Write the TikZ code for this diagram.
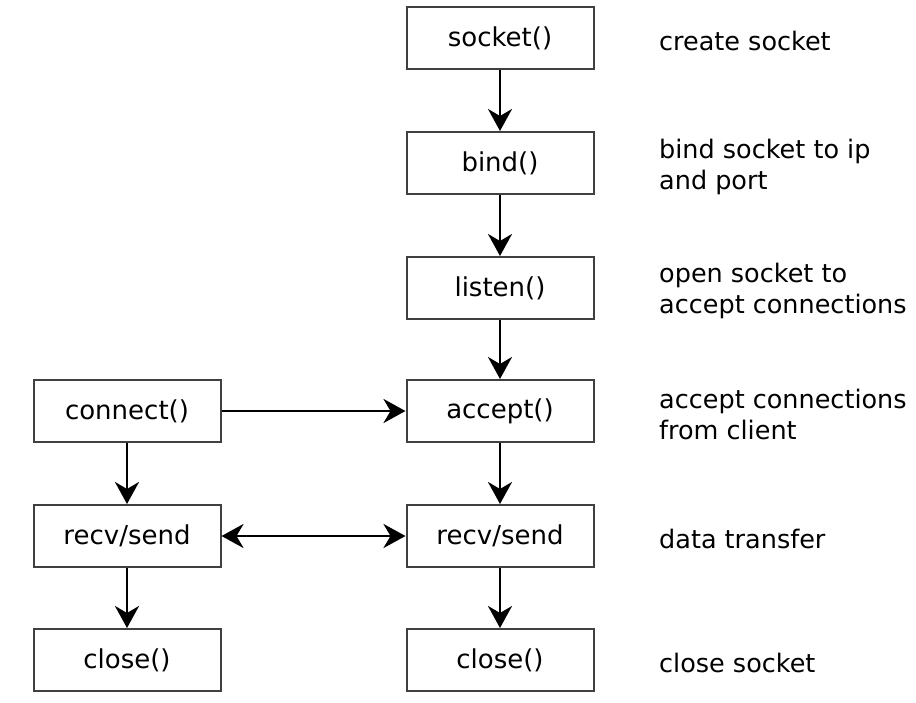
\documentclass[tikz,border=0pt]{standalone}
\usepackage{fontspec}
\setmainfont{DejaVu Sans}
\usetikzlibrary{arrows.meta}
\begin{document}
\begin{tikzpicture}[x=1pt,y=-1pt,
  callbox/.style={draw=black!75,line width=2pt,minimum width=187pt,minimum height=62pt,
    inner sep=0pt,font=\fontsize{26}{30}\selectfont},
  note/.style={anchor=west,align=left,inner sep=0pt,font=\fontsize{25.5}{31}\selectfont},
  flow/.style={line width=2.8pt,-{Stealth[length=22pt,width=24pt,inset=7pt]}},
  both/.style={line width=2.8pt,{Stealth[length=22pt,width=24pt,inset=7pt]}-{Stealth[length=22pt,width=24pt,inset=7pt]}}]
\useasboundingbox (0,0) rectangle (916,702);
% server side
\node[callbox] (socket) at (500,38) {socket()};
\node[callbox] (bind)   at (500,163) {bind()};
\node[callbox] (listen) at (500,288) {listen()};
\node[callbox] (accept) at (500,411) {accept()};
\node[callbox] (srs)    at (500,536) {recv/send};
\node[callbox] (sclose) at (500,660) {close()};
% client side
\node[callbox] (connect) at (127,411) {connect()};
\node[callbox] (crs)     at (127,536) {recv/send};
\node[callbox] (cclose)  at (127,660) {close()};
% descriptions
\node[note] (n1) at (659,41) {create socket};
\node[note] (n2) at (659,167) {bind socket to ip\\and port};
\node[note] (n3) at (659,291) {open socket to\\accept connections};
\node[note] (n4) at (659,414) {accept connections\\from client};
\node[note] (n5) at (659,539) {data transfer};
\node[note] (n6) at (659,663) {close socket};
% connectors
\draw[flow] (socket) -- (bind);
\draw[flow] (bind) -- (listen);
\draw[flow] (listen) -- (accept);
\draw[flow] (accept) -- (srs);
\draw[flow] (srs) -- (sclose);
\draw[flow] (connect) -- (crs);
\draw[flow] (crs) -- (cclose);
\draw[flow] (connect) -- (accept);
\draw[both] (crs) -- (srs);
\end{tikzpicture}
\end{document}
